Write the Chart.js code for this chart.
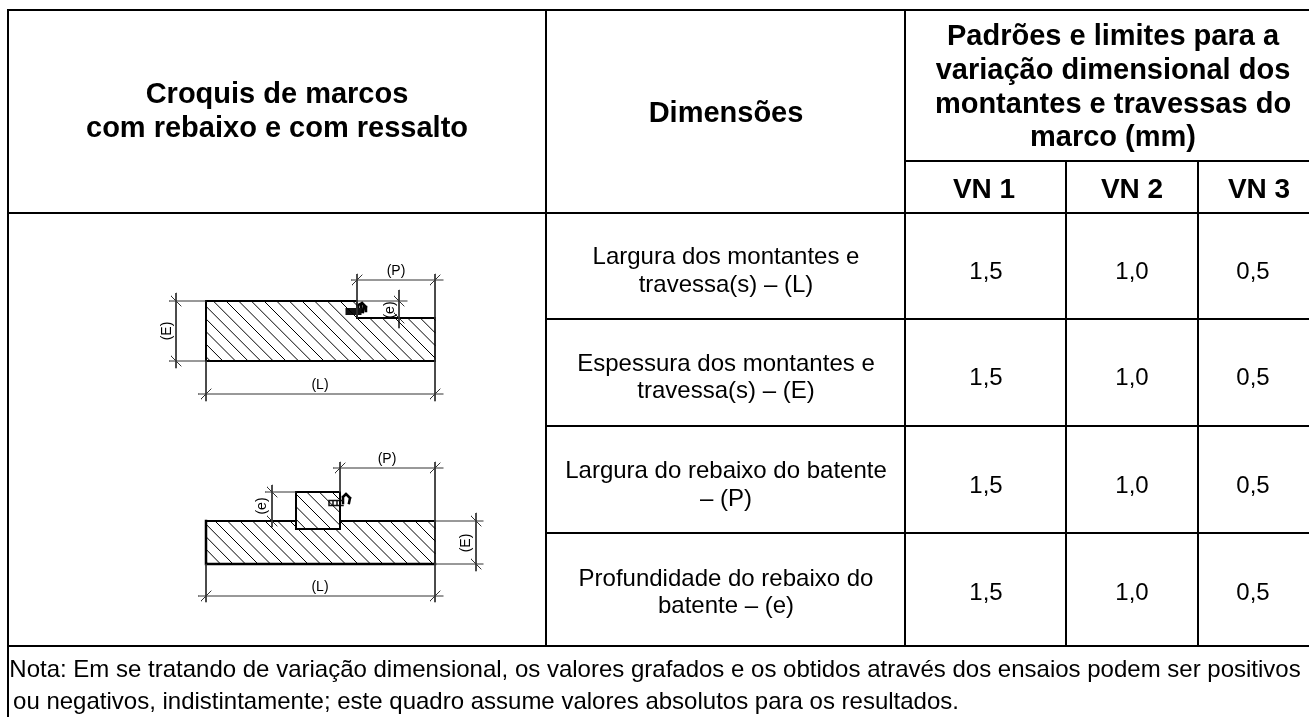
<!DOCTYPE html>
<html lang="pt">
<head>
<meta charset="utf-8">
<title>Variação dimensional dos marcos</title>
<style>
  html, body { margin: 0; padding: 0; background: #fff; overflow: hidden; }
  canvas { display: block; }
</style>
<script src="https://cdn.jsdelivr.net/npm/chart.js@4/dist/chart.umd.js"></script>
</head>
<body>
<canvas id="quadro" width="1309" height="717"></canvas>
<script>
// ===== conteúdo do quadro =====
const rowLabels = [
  ['Largura dos montantes e', 'travessa(s) – (L)'],
  ['Espessura dos montantes e', 'travessa(s) – (E)'],
  ['Largura do rebaixo do batente', '– (P)'],
  ['Profundidade do rebaixo do', 'batente – (e)']
];
const vn1Values = [1.5, 1.5, 1.5, 1.5];
const vn2Values = [1.0, 1.0, 1.0, 1.0];
const vn3Values = [0.5, 0.5, 0.5, 0.5];
const vnLabels = ['VN 1', 'VN 2', 'VN 3'];
const sketchTitle = ['Croquis de marcos', 'com rebaixo e com ressalto'];
const dimensionTitle = 'Dimensões';
const limitsTitle = ['Padrões e limites para a', 'variação dimensional dos', 'montantes e travessas do', 'marco (mm)'];
const noteLines = [
  'Nota: Em se tratando de variação dimensional, os valores grafados e os obtidos através dos ensaios podem ser positivos',
  'ou negativos, indistintamente; este quadro assume valores absolutos para os resultados.'
];

// ===== geometria: segmentos [x1, y1, x2, y2] =====
const tableLines = [
  [8, 10, 1309, 10], [8, 10, 8, 717],
  [546, 10, 546, 646], [905, 10, 905, 646],
  [1066, 161, 1066, 646], [1198, 161, 1198, 646],
  [905, 161, 1309, 161],
  [8, 213, 1309, 213],
  [546, 319, 1309, 319], [546, 426, 1309, 426], [546, 533, 1309, 533],
  [8, 646, 1309, 646]
];
const outlineLines = [
  [206, 301, 357, 301], [357, 301, 357, 318], [357, 318, 435, 318], [435, 318, 435, 361], [435, 361, 206, 361], [206, 361, 206, 301],
  [206, 521, 296, 521], [340, 521, 435, 521], [435, 521, 435, 564],
  [296, 492, 340, 492], [340, 492, 340, 529], [340, 529, 296, 529], [296, 529, 296, 492]
];
const heavyOutlineLines = [
  [435, 564, 206, 564], [206, 564, 206, 521]
];
const dimensionLines = [
  // marco com rebaixo
  [176, 293, 176, 368], [169, 301, 206, 301], [169, 361, 206, 361],
  [198, 394, 443, 394], [206, 361, 206, 401], [435, 274, 435, 401],
  [351, 280, 443, 280], [357, 274, 357, 318],
  [399, 290, 399, 328], [357, 301, 407, 301],
  // marco com ressalto
  [333, 468, 443, 468], [340, 462, 340, 492], [435, 462, 435, 602],
  [272, 485, 272, 527], [265, 492, 296, 492],
  [476, 513, 476, 571], [435, 521, 483, 521], [435, 564, 483, 564],
  [198, 596, 443, 596], [206, 564, 206, 602]
];
const tickSlash = [
  [206, 394], [435, 394], [357, 280], [435, 280],
  [340, 468], [435, 468], [206, 596], [435, 596]
];
const tickBackslash = [
  [176, 301], [176, 361], [399, 301], [399, 318],
  [272, 492], [272, 521], [476, 521], [476, 564]
];
const hatchTop = [
  [206, 356.7, 210.3, 361], [206, 344.1, 222.9, 361], [206, 331.5, 235.5, 361], [206, 318.9, 248.1, 361],
  [206, 306.3, 260.7, 361], [213.3, 301, 273.3, 361], [226, 301, 286, 361], [238.6, 301, 298.6, 361],
  [251.3, 301, 311.3, 361], [264, 301, 324, 361], [276.6, 301, 336.6, 361], [289.3, 301, 349.3, 361],
  [302, 301, 362, 361], [314.6, 301, 374.6, 361], [327.3, 301, 387.3, 361], [340, 301, 400, 361],
  [352.6, 301, 357, 305.4], [369.6, 318, 412.6, 361], [382.3, 318, 425.3, 361], [395, 318, 435, 358],
  [407.6, 318, 435, 345.4], [420.3, 318, 435, 332.7], [433, 318, 435, 320]
];
const hatchBottom = [
  [206, 561.7, 208, 564], [206, 549.2, 220.5, 564], [206, 536.7, 233, 564], [206, 524.2, 245.5, 564],
  [215, 521, 258, 564], [227.5, 521, 270.5, 564], [240, 521, 283, 564], [252.5, 521, 295.5, 564],
  [265, 521, 308, 564], [277.5, 521, 320.5, 564], [290, 521, 296, 527], [298, 529, 333, 564],
  [310.5, 529, 345.5, 564], [323, 529, 358, 564], [335.5, 529, 370.5, 564], [340, 521, 383, 564],
  [352.5, 521, 395.5, 564], [365, 521, 408, 564], [377.5, 521, 420.5, 564], [390, 521, 433, 564],
  [402.5, 521, 435, 553.5], [415, 521, 435, 541], [427.5, 521, 435, 528.5],
  [296, 494, 331, 529], [296, 506.6, 318.4, 529], [296, 519.2, 305.8, 529],
  [306.7, 492, 340, 525.3], [319.3, 492, 340, 512.7], [332, 492, 340, 500]
];
const sealBlocks = [
  [349, 311.5, 358, 311.5]
];
const sealOutlines = [
  [329, 500.5, 343, 500.5], [329, 505.5, 343, 505.5], [329, 500.5, 329, 505.5], [333, 500.5, 333, 505.5], [337, 500.5, 337, 505.5]
];
const sealCurves = [
  [358, 311, 358, 305], [358, 305, 362, 303], [362, 303, 366, 307], [366, 307, 366, 311], [361, 305, 361, 312], [364, 306, 363, 312],
  [343, 503, 343, 497], [343, 497, 346, 494], [346, 494, 350, 498], [350, 498, 349, 503]
];

// ===== posição dos textos =====
const rowCenters = [270.5, 377, 484.5, 592];
const columnCenters = { sketch: 277, dimension: 726, limits: 1113, vn: [986, 1132, 1253] };
const vnHeaderCenters = [984, 1132, 1259];
const limitsBaselines = [45, 79, 113, 146];
const sketchLabels = [
  { text: '(P)', x: 396, y: 270, rot: 0 }, { text: '(L)', x: 320, y: 384, rot: 0 },
  { text: '(E)', x: 165.5, y: 331, rot: -90 }, { text: '(e)', x: 389, y: 310, rot: -90 },
  { text: '(P)', x: 387, y: 457.5, rot: 0 }, { text: '(L)', x: 320, y: 586, rot: 0 },
  { text: '(e)', x: 261, y: 506, rot: -90 }, { text: '(E)', x: 465, y: 543, rot: -90 }
];

const FONT = '"Liberation Sans", Arial, sans-serif';

function toPoints(segments) {
  const points = [];
  segments.forEach(s => {
    points.push({ x: s[0], y: s[1] }, { x: s[2], y: s[3] }, { x: null, y: null });
  });
  return points;
}

function ticksToSegments(list, dir) {
  return list.map(t => [t[0] - 5, t[1] - 5 * dir, t[0] + 5, t[1] + 5 * dir]);
}

function lineSet(segments, color, width) {
  return {
    data: toPoints(segments),
    showLine: true,
    spanGaps: false,
    borderColor: color,
    borderWidth: width,
    borderCapStyle: 'square',
    pointRadius: 0,
    tension: 0
  };
}

const formatValue = v => v.toFixed(1).replace('.', ',');

const textPlugin = {
  id: 'textoQuadro',
  afterDatasetsDraw(chart) {
    const { ctx, scales } = chart;
    const put = (text, x, y, font, rot) => {
      ctx.save();
      ctx.font = font;
      ctx.fillStyle = '#000';
      ctx.textAlign = 'center';
      ctx.textBaseline = 'alphabetic';
      ctx.translate(scales.x.getPixelForValue(x), scales.y.getPixelForValue(y));
      if (rot) ctx.rotate(rot * Math.PI / 180);
      ctx.fillText(text, 0, 0);
      ctx.restore();
    };

    const bold = 'bold 29px ' + FONT;
    const regular = '24px ' + FONT;

    put(sketchTitle[0], columnCenters.sketch, 103, bold);
    put(sketchTitle[1], columnCenters.sketch, 137, bold);
    put(dimensionTitle, columnCenters.dimension, 122, bold);
    limitsTitle.forEach((t, i) => put(t, columnCenters.limits, limitsBaselines[i], bold));
    vnLabels.forEach((t, i) => put(t, vnHeaderCenters[i], 198, 'bold 28px ' + FONT));

    rowLabels.forEach((lines, r) => {
      put(lines[0], columnCenters.dimension, rowCenters[r] - 6.5, regular);
      put(lines[1], columnCenters.dimension, rowCenters[r] + 21, regular);
      put(formatValue(vn1Values[r]), columnCenters.vn[0], rowCenters[r] + 8, regular);
      put(formatValue(vn2Values[r]), columnCenters.vn[1], rowCenters[r] + 8, regular);
      put(formatValue(vn3Values[r]), columnCenters.vn[2], rowCenters[r] + 8, regular);
    });

    put(noteLines[0], 655, 677, regular);
    put(noteLines[1], 486, 709, regular);

    // rótulos girados têm a linha de base à direita
    sketchLabels.forEach(l => {
      if (l.rot) put(l.text, l.x + 5, l.y, '14px ' + FONT, l.rot);
      else put(l.text, l.x, l.y + 5, '14px ' + FONT);
    });
  }
};

new Chart(document.getElementById('quadro'), {
  type: 'scatter',
  data: {
    datasets: [
      lineSet(hatchTop, '#000', 1),
      lineSet(hatchBottom, '#000', 1),
      lineSet(dimensionLines, '#333', 1),
      lineSet(ticksToSegments(tickSlash, -1), '#333', 1),
      lineSet(ticksToSegments(tickBackslash, 1), '#333', 1),
      lineSet(outlineLines, '#000', 2),
      lineSet(heavyOutlineLines, '#000', 2.5),
      lineSet(sealBlocks, '#111', 7),
      lineSet(sealOutlines, '#111', 1.5),
      lineSet(sealCurves, '#000', 2.5),
      lineSet(tableLines, '#000', 2)
    ]
  },
  options: {
    responsive: false,
    animation: false,
    events: [],
    layout: { padding: 0 },
    plugins: { legend: { display: false }, tooltip: { enabled: false } },
    scales: {
      x: { type: 'linear', display: false, min: 0, max: 1309 },
      y: { type: 'linear', display: false, min: 0, max: 717, reverse: true }
    }
  },
  plugins: [textPlugin]
});
</script>
</body>
</html>
